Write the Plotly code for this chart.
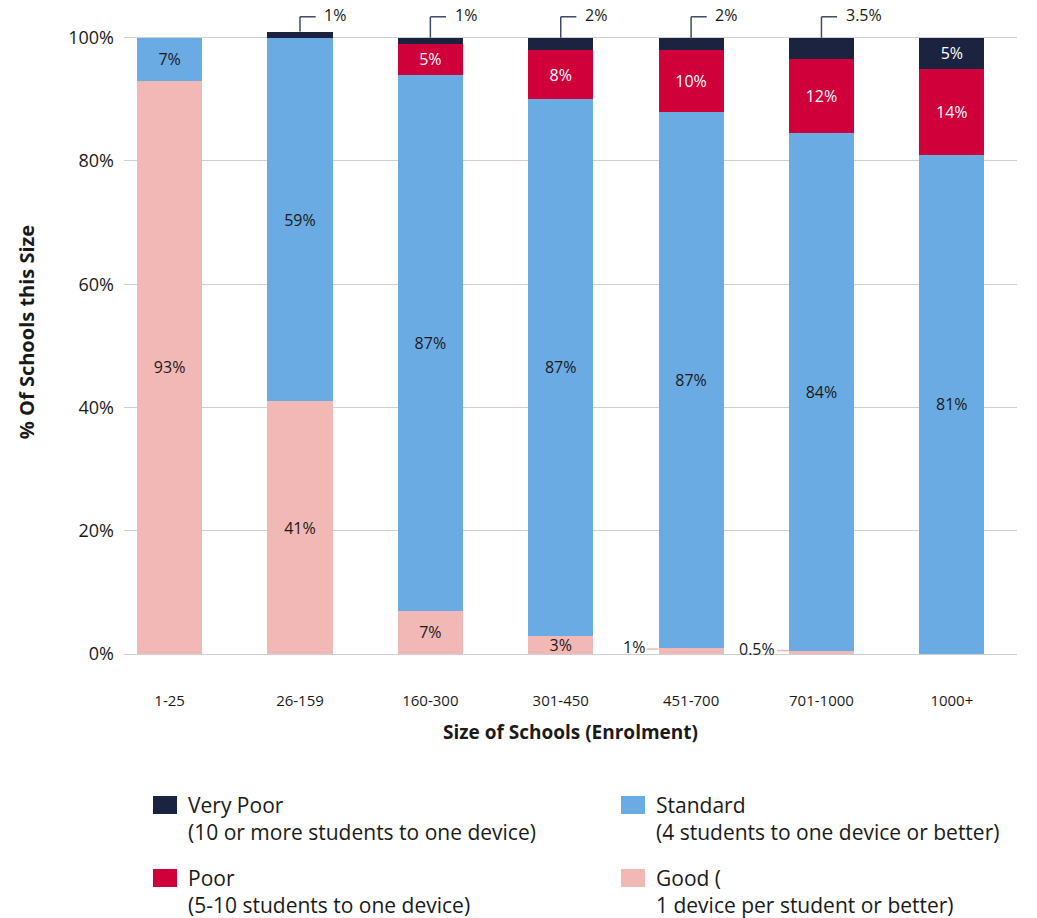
import plotly.graph_objects as go

# School size bands (enrolment)
categories = ["1-25", "26-159", "160-300", "301-450", "451-700", "701-1000", "1000+"]

# Share of schools (%) in each device-ratio band
good = [93, 41, 7, 3, 1, 0.5, 0]
standard = [7, 59, 87, 87, 87, 84, 81]
poor = [0, 0, 5, 8, 10, 12, 14]
very_poor = [0, 1, 1, 2, 2, 3.5, 5]

y_ticks = [0, 20, 40, 60, 80, 100]
y_tick_labels = ["0%", "20%", "40%", "60%", "80%", "100%"]

series = [
    # name, first line, second line, values, colour, label colour, min value labelled inside
    ("Good", "Good (", "1 device per student or better)", good, "#f2b8b6", "#1a1a1a", 3),
    ("Standard", "Standard", "(4 students to one device or better)", standard, "#6aabe3", "#1a1a1a", 0.01),
    ("Poor", "Poor", "(5-10 students to one device)", poor, "#d0003a", "#ffffff", 0.01),
    ("Very Poor", "Very Poor", "(10 or more students to one device)", very_poor, "#1b2340", "#ffffff", 5),
]

FONT = "Open Sans, Noto Sans, sans-serif"
TEXT = "#1a1a1a"
W, H = 1037, 918
M_L, M_R, M_T, M_B = 124, 20, 10, 264
PW, PH = W - M_L - M_R, H - M_T - M_B
BAR_W = 0.5
LABEL_SIZE = 16
LEGEND_SIZE = 21


def fmt(v):
    return f"{v:g}%"


fig = go.Figure()
for name, _, _, vals, color, tcolor, inside_min in series:
    fig.add_trace(go.Bar(
        x=categories,
        y=vals,
        name=name,
        width=BAR_W,
        marker=dict(color=color, line=dict(width=0)),
        text=[fmt(v) if v >= inside_min else "" for v in vals],
        textposition="inside",
        insidetextanchor="middle",
        textangle=0,
        constraintext="none",
        textfont=dict(family=FONT, size=LABEL_SIZE, color=tcolor),
        showlegend=False,
        hoverinfo="skip",
    ))

shapes = []
annotations = []

# Small "Very Poor" shares: bracket leader above the stack
totals = [g + s + p + v for g, s, p, v in zip(good, standard, poor, very_poor)]
bracket_y = 103.4
for i, (v, top) in enumerate(zip(very_poor, totals)):
    if 0 < v < 5:
        line = dict(color="#3d4a66", width=1.5)
        shapes.append(dict(type="line", xref="x", yref="y", x0=i, x1=i,
                           y0=top, y1=bracket_y, line=line))
        shapes.append(dict(type="line", xref="x", yref="y", x0=i, x1=i + 0.12,
                           y0=bracket_y, y1=bracket_y, line=line))
        annotations.append(dict(x=i + 0.17, y=bracket_y + 0.3, xref="x", yref="y",
                                text=fmt(v), showarrow=False, xanchor="left",
                                yanchor="middle",
                                font=dict(family=FONT, size=LABEL_SIZE, color=TEXT)))

# Small "Good" shares: label to the left of the bar with a short leader
for i, v in enumerate(good):
    if 0 < v < 3:
        left = i - BAR_W / 2
        shapes.append(dict(type="line", xref="x", yref="y", x0=left - 0.09, x1=left,
                           y0=v / 2 + 0.3, y1=v / 2 + 0.3,
                           line=dict(color="#f2b8b6", width=1.5)))
        annotations.append(dict(x=left - 0.09, y=v / 2 + 0.6, xref="x", yref="y",
                                text=fmt(v), showarrow=False, xanchor="right",
                                yanchor="middle",
                                font=dict(family=FONT, size=LABEL_SIZE, color=TEXT)))


# Legend drawn as swatches + two-line captions, laid out in pixels
def px(x):
    return (x - M_L) / PW


def py(y):
    return (H - M_B - y) / PH


legend_items = {
    "Very Poor": (153, 796),
    "Standard": (621, 796),
    "Poor": (153, 869),
    "Good": (621, 869),
}
line_gap = 1.3 * LEGEND_SIZE
for name, line1, line2, vals, color, _, _ in series:
    sx, sy = legend_items[name]
    shapes.append(dict(type="rect", xref="paper", yref="paper",
                       x0=px(sx), x1=px(sx + 24), y0=py(sy), y1=py(sy + 18),
                       fillcolor=color, line=dict(width=0)))
    annotations.append(dict(x=px(sx + 33), y=py(sy + 9 + line_gap / 2),
                            xref="paper", yref="paper",
                            text=f"{line1}<br>{line2}", showarrow=False,
                            xanchor="left", yanchor="middle", align="left",
                            font=dict(family=FONT, size=LEGEND_SIZE, color=TEXT)))

fig.update_layout(
    width=W,
    height=H,
    margin=dict(l=M_L, r=M_R, t=M_T, b=M_B, autoexpand=False),
    barmode="stack",
    plot_bgcolor="#ffffff",
    paper_bgcolor="#ffffff",
    font=dict(family=FONT, color=TEXT),
    shapes=shapes,
    annotations=annotations,
    xaxis=dict(
        type="category",
        range=[-0.35, 6.5],
        showgrid=False,
        showline=False,
        zeroline=False,
        ticks="",
        ticklabelstandoff=36,
        tickfont=dict(family=FONT, size=15, color=TEXT),
        title=dict(text="<b>Size of Schools (Enrolment)</b>",
                   font=dict(family=FONT, size=19, color=TEXT), standoff=16),
    ),
    yaxis=dict(
        range=[0, 104.5],
        tickvals=y_ticks,
        ticktext=y_tick_labels,
        showgrid=True,
        gridcolor="#cfcfcf",
        gridwidth=1,
        zeroline=True,
        zerolinecolor="#cfcfcf",
        zerolinewidth=1,
        showline=False,
        ticks="",
        ticklabelstandoff=9,
        tickfont=dict(family=FONT, size=18, color=TEXT),
        title=dict(text="<b>% Of Schools this Size</b>",
                   font=dict(family=FONT, size=20, color=TEXT), standoff=28),
    ),
)

fig.write_html("out.html")
